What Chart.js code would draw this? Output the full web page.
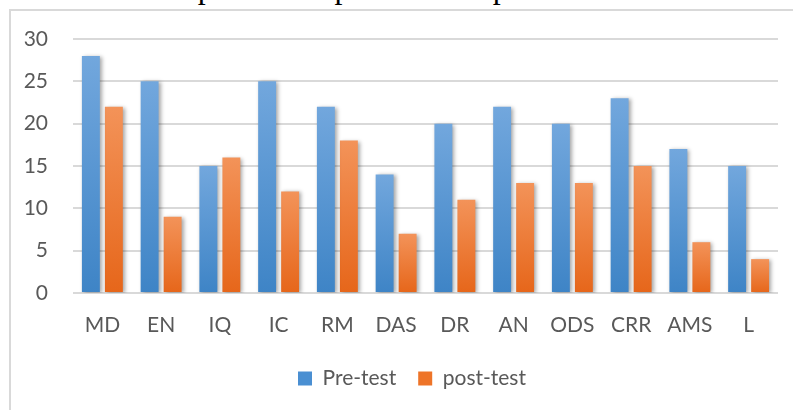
<!DOCTYPE html>
<html>
<head>
<meta charset="utf-8">
<script src="https://cdn.jsdelivr.net/npm/chart.js"></script>
<style>
  body { margin: 0; background: #fff; overflow: hidden; }
  #caption {
    position: absolute; left: 24px; top: -29px; white-space: nowrap;
    font-family: "Liberation Serif", serif; font-size: 32px; line-height: 32px; color: #000;
  }
  #frame {
    position: absolute; left: 9px; top: 9px; width: 820px; height: 440px;
    border: 2px solid #d9d9d9;
  }
  #wrap { position: absolute; left: 0; top: 0; width: 793px; height: 410px; }
</style>
</head>
<body>
<div id="caption">Table 4: Comparison of pre-test and post-test ASS scores</div>
<div id="frame"></div>
<div id="wrap"><canvas id="myChart"></canvas></div>
<script>
const categories = ['MD', 'EN', 'IQ', 'IC', 'RM', 'DAS', 'DR', 'AN', 'ODS', 'CRR', 'AMS', 'L'];
const preTest = [28, 25, 15, 25, 22, 14, 20, 22, 20, 23, 17, 15];
const postTest = [22, 9, 16, 12, 18, 7, 11, 13, 13, 15, 6, 4];
const yTicks = [0, 5, 10, 15, 20, 25, 30];

// gradient per bar, light at top, dark at the base
function barFill(top, bottom) {
  return function (ctx) {
    const chart = ctx.chart;
    const y = chart.scales && chart.scales.y;
    if (!y || ctx.type !== 'data') return bottom;
    const y0 = y.getPixelForValue(0);
    const y1 = y.getPixelForValue(ctx.raw);
    if (!isFinite(y0) || !isFinite(y1) || y0 === y1) return bottom;
    const g = chart.ctx.createLinearGradient(0, y1, 0, y0);
    g.addColorStop(0, top);
    g.addColorStop(1, bottom);
    return g;
  };
}

const shadow = {
  id: 'shadow',
  beforeDatasetsDraw(chart) {
    const c = chart.ctx;
    c.save();
    c.shadowColor = 'rgba(0,0,0,0.35)';
    c.shadowBlur = 4;
    c.shadowOffsetX = 2;
    c.shadowOffsetY = 1;
  },
  afterDatasetsDraw(chart) {
    chart.ctx.restore();
  }
};

// legend sits a bit right of the canvas centre in the original
const legendShift = {
  id: 'legendShift',
  afterLayout(chart) {
    if (chart.legend) {
      chart.legend.left += 23;
      chart.legend.right += 23;
    }
  }
};

document.addEventListener("DOMContentLoaded", function () {
  var ctx = document.getElementById("myChart").getContext('2d');
  new Chart(ctx, {
    type: 'bar',
    data: {
      labels: categories,
      datasets: [{
        label: 'Pre-test',
        data: preTest,
        backgroundColor: barFill('#72a7dd', '#3e84c6'),
        borderWidth: 0
      }, {
        label: 'post-test',
        data: postTest,
        backgroundColor: barFill('#f39359', '#e6661a'),
        borderWidth: 0
      }]
    },
    plugins: [shadow, legendShift],
    options: {
      responsive: true,
      maintainAspectRatio: false,
      animation: false,
      categoryPercentage: 0.783,
      barPercentage: 0.78,
      layout: { padding: { left: 0, right: 15, top: 39, bottom: 11 } },
      plugins: {
        tooltip: { enabled: false },
        legend: {
          position: 'bottom',
          labels: {
            color: '#595959',
            font: { family: 'Lato', size: 21 },
            boxWidth: 14,
            boxHeight: 14,
            padding: 22,
            generateLabels(chart) {
              const cols = ['#4a8fd2', '#ee7428'];
              return chart.data.datasets.map((d, i) => ({
                text: d.label, fillStyle: cols[i], strokeStyle: cols[i], lineWidth: 0,
                fontColor: '#595959', datasetIndex: i, hidden: false
              }));
            }
          }
        }
      },
      scales: {
        x: {
          grid: { display: false, drawTicks: false },
          border: { display: false },
          ticks: { color: '#595959', font: { family: 'Lato', size: 21 }, padding: 20 },
          afterFit(scale) { scale.height = 53; }
        },
        y: {
          min: 0, max: 30,
          afterBuildTicks(scale) { scale.ticks = yTicks.map(v => ({ value: v })); },
          grid: { color: '#d9d9d9', lineWidth: 2, drawTicks: false },
          border: { display: false },
          ticks: { color: '#595959', font: { family: 'Lato', size: 21 }, padding: 25 },
          afterFit(scale) { scale.width = 73; }
        }
      }
    }
  });
});
</script>
</body>
</html>
